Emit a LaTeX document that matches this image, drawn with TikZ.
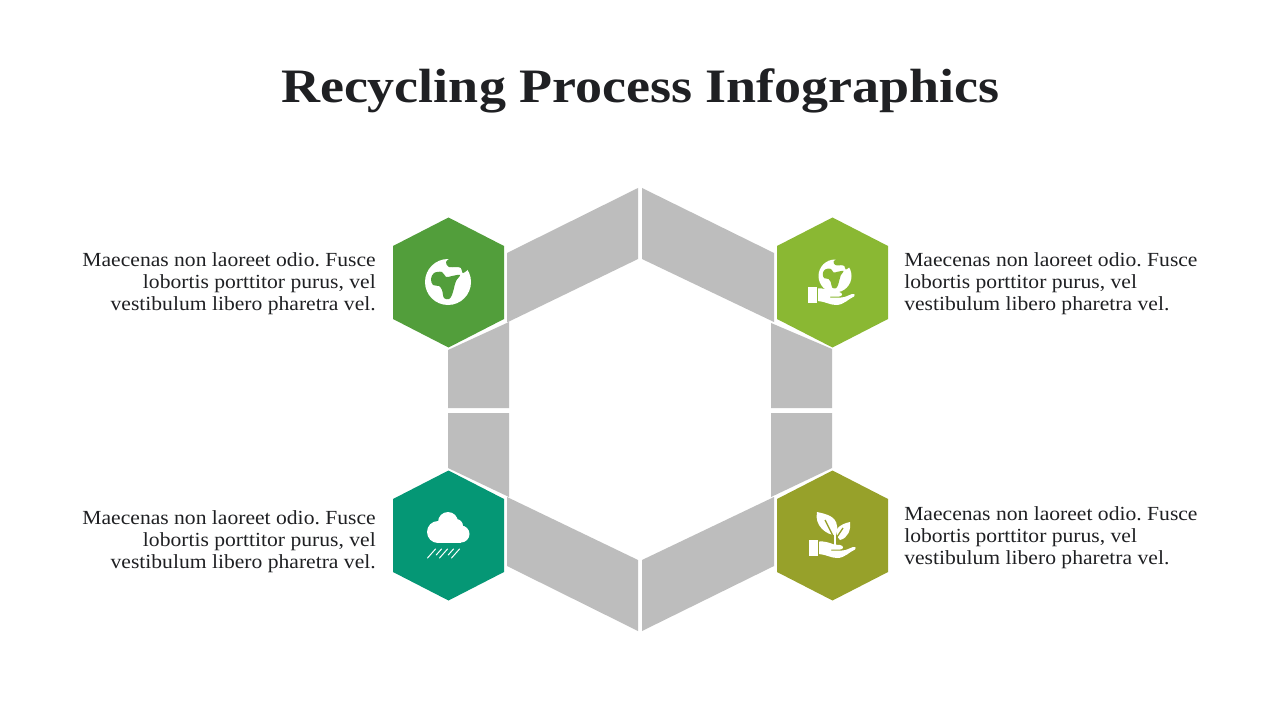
\documentclass[tikz,border=0pt]{standalone}
\usepackage{fontspec}
\setmainfont{Liberation Serif}
\newfontfamily\titlefont[FakeStretch=1.125]{Liberation Serif}
\newfontfamily\bodyfont[FakeStretch=1.08]{Liberation Serif}
\frenchspacing
\definecolor{band}{HTML}{BDBDBD}
\definecolor{ink}{HTML}{1F2023}
\definecolor{hexa}{HTML}{529E3B}
\definecolor{hexb}{HTML}{8AB833}
\definecolor{hexc}{HTML}{059775}
\definecolor{hexd}{HTML}{97A12A}
\tikzset{
  bandpart/.style={fill=band},
  titletext/.style={font=\titlefont\bfseries\fontsize{36}{43}\selectfont,text=ink,inner sep=0pt},
  bodyleft/.style={font=\bodyfont\fontsize{15}{16.5}\selectfont,text=ink,inner sep=0pt,align=right,anchor=east},
  bodyright/.style={font=\bodyfont\fontsize{15}{16.5}\selectfont,text=ink,inner sep=0pt,align=left,anchor=west},
  rainline/.style={white,line width=0.75pt,line cap=round},
  hexglyph/.pic={\fill (-55.5,-36.5) -- (0,-65) -- (55.5,-36.5) -- (55.5,36.5) -- (0,65) -- (-55.5,36.5) -- cycle;},
  continents/.pic={
    % 1 unit = 1 reference px, origin at globe centre
    \fill plot[smooth cycle,tension=0.6] coordinates {(-17,-3)(-14,-9)(-6,-10)(-2,-5)(4,-6)(12,-7)(8,-1)(6,6)(4,13)(1,17)(-4,16)(-6,8)(-9,4)(-15,3)};
    \fill plot[smooth cycle,tension=0.6] coordinates {(5,-25)(-2,-20)(1,-15)(8,-15)(13,-14)(15,-9)(21,-15)(15,-24)};
  },
  hand/.pic={
    % origin at top left of the cuff
    \fill (0,0) rectangle (8.5,15.5);
    \fill (10,1.5) .. controls (15,1) and (20,2.5) .. (25,4.5) -- (31,5) .. controls (35,5.5) and (35,9.5) .. (31,9.5) -- (22,9.5) -- (22,10.5) -- (33,10.5) .. controls (37,10.5) and (41,8) .. (44,7) .. controls (47,6.5) and (47.5,8.5) .. (46,9.5) .. controls (40,12) and (36,18) .. (28,18) .. controls (22,18) and (17,14.5) .. (10,14) -- cycle;
  },
}
\begin{document}
\begin{tikzpicture}[x=0.75pt,y=-0.75pt]
\useasboundingbox (0,0) rectangle (1280,720);
\fill[white] (0,0) rectangle (1280,720);

\node[titletext] (title) at (640.5,90.5) {Recycling Process Infographics};

% grey ring
\fill[bandpart] (507,253) -- (638,188) -- (638,259) -- (508,322) -- (507,322) -- cycle;
\fill[bandpart] (642,188) -- (774,253) -- (774,322) -- (642,259) -- cycle;
\fill[bandpart] (448,350) -- (509,322) -- (509,408) -- (448,408) -- cycle;
\fill[bandpart] (771,323) -- (832,349) -- (832,408) -- (771,408) -- cycle;
\fill[bandpart] (448,413) -- (509,413) -- (509,497) -- (448,468) -- cycle;
\fill[bandpart] (771,413) -- (832,413) -- (832,468) -- (771,497) -- cycle;
\fill[bandpart] (507,497) -- (638,560) -- (638,631) -- (507,566) -- cycle;
\fill[bandpart] (642,560) -- (774,497) -- (774,566) -- (642,631) -- cycle;

% hexagons
\pic[hexa] at (448.5,282.5) {hexglyph};
\pic[hexb] at (832.5,282.5) {hexglyph};
\pic[hexc] at (448.5,535.5) {hexglyph};
\pic[hexd] at (832.5,535.5) {hexglyph};

% globe (top left)
\fill[white] (448,282) circle (23);
\pic[hexa] at (448,282) {continents};

% globe in hand (top right)
\fill[white] (835,276) circle (16.5);
\begin{scope}[shift={(835,276)},scale=0.72]
\pic[hexb,transform shape] at (0,0) {continents};
\end{scope}
\pic[white] at (808,287) {hand};

% rain cloud (bottom left)
\fill[white] (448,522) circle (10);
\fill[white] (438,532) circle (11);
\fill[white] (461,534) circle (8.5);
\fill[white] (456,526) circle (7);
\fill[white] (438,528) rectangle (461,543);
\draw[rainline] (427.5,558) -- (435.5,549);
\draw[rainline] (436.2,555) -- (441.5,549);
\draw[rainline] (439.5,558) -- (447.5,549);
\draw[rainline] (448.2,555) -- (453.5,549);
\draw[rainline] (451.5,558) -- (459.5,549);

% sprout in hand (bottom right)
\fill[white] (817,512) .. controls (826,514) and (836,516) .. (837,526) .. controls (838,530) and (837,533) .. (835,535) .. controls (827,535) and (814,526) .. (817,512) -- cycle;
\fill[white] (850,522) .. controls (851,530) and (848,538) .. (840,540) .. controls (837,537) and (835,532) .. (837,529) .. controls (840,525) and (845,523) .. (850,522) -- cycle;
\draw[hexd,line width=1pt] (825,520) -- (835,540) -- (843,528);
\draw[white,line width=0.8pt] (835,533) -- (835,546);
\pic[white] at (809,540) {hand};

% captions
\node[bodyleft] (capa) at (376,284) {Maecenas non laoreet odio. Fusce\\lobortis porttitor purus, vel\\vestibulum libero pharetra vel.};
\node[bodyright] (capb) at (904,284) {Maecenas non laoreet odio. Fusce\\lobortis porttitor purus, vel\\vestibulum libero pharetra vel.};
\node[bodyleft] (capc) at (376,542) {Maecenas non laoreet odio. Fusce\\lobortis porttitor purus, vel\\vestibulum libero pharetra vel.};
\node[bodyright] (capd) at (904,538) {Maecenas non laoreet odio. Fusce\\lobortis porttitor purus, vel\\vestibulum libero pharetra vel.};
\end{tikzpicture}
\end{document}
